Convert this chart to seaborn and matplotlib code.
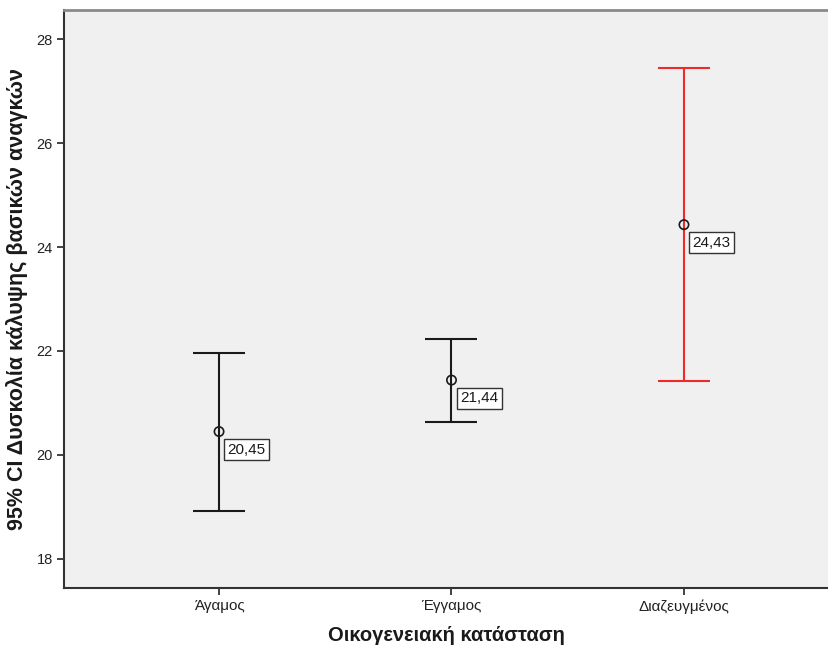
import matplotlib
matplotlib.use("Agg")
import matplotlib.pyplot as plt
import seaborn as sns
import pandas as pd

categories = ["Άγαμος", "Έγγαμος", "Διαζευγμένος"]
means = [20.45, 21.44, 24.43]
ci_lower = [18.92, 20.63, 21.42]
ci_upper = [21.96, 22.23, 27.44]
bar_colors = ["#1a1a1a", "#1a1a1a", "#ee2a2a"]
yticks = [18, 20, 22, 24, 26, 28]
mean_labels = ["20,45", "21,44", "24,43"]

sns.set_theme(style="white")
plt.rcParams["font.family"] = ["Liberation Sans", "DejaVu Sans"]

df = pd.DataFrame({"cat": categories, "mean": means, "lo": ci_lower, "hi": ci_upper})

fig = plt.figure(figsize=(8.29, 6.55), dpi=100)
ax = fig.add_axes([64 / 829, 67 / 655, 1 - 64 / 829, (588 - 10) / 655])
ax.set_facecolor("#f0f0f0")

for i, row in df.iterrows():
    ax.errorbar(i, row["mean"],
                yerr=[[row["mean"] - row["lo"]], [row["hi"] - row["mean"]]],
                fmt="none", ecolor=bar_colors[i], elinewidth=1.5,
                capsize=19, capthick=1.5, zorder=2)

sns.scatterplot(x=list(range(len(categories))), y=means, ax=ax, marker="o",
                s=45, facecolor="none", edgecolor="#1a1a1a", linewidth=1.2,
                zorder=3, legend=False)

for i, (m, lab) in enumerate(zip(means, mean_labels)):
    ax.annotate(lab, xy=(i, m), xytext=(6.2, -13), textcoords="offset points",
                ha="left", va="center", fontsize=11, color="#1a1a1a",
                bbox=dict(boxstyle="square,pad=0.22", fc="white", ec="#333333", lw=1),
                zorder=4)

ax.set_xlim(-0.667, 2.624)
ax.set_ylim(17.44, 28.56)
ax.set_xticks(range(len(categories)))
ax.set_xticklabels(categories, fontsize=11)
ax.set_yticks(yticks)
ax.set_yticklabels([str(t) for t in yticks], fontsize=10.5)
ax.tick_params(axis="both", direction="out", length=5, width=1.2, color="#222222",
               labelcolor="#222222", bottom=True, left=True, pad=3)

for side in ["left", "bottom"]:
    ax.spines[side].set_color("#333333")
    ax.spines[side].set_linewidth(1.5)
ax.spines["top"].set_color("#8a8a8a")
ax.spines["top"].set_linewidth(2)
ax.spines["right"].set_visible(False)

ax.set_xlabel("Οικογενειακή κατάσταση", fontsize=14.5, fontweight="bold",
              color="#1a1a1a", labelpad=9)
ax.set_ylabel("95% CI Δυσκολία κάλυψης βασικών αναγκών", fontsize=15.5,
              fontweight="bold", color="#1a1a1a", labelpad=6)

fig.savefig("out.png", dpi=100, facecolor="white")
